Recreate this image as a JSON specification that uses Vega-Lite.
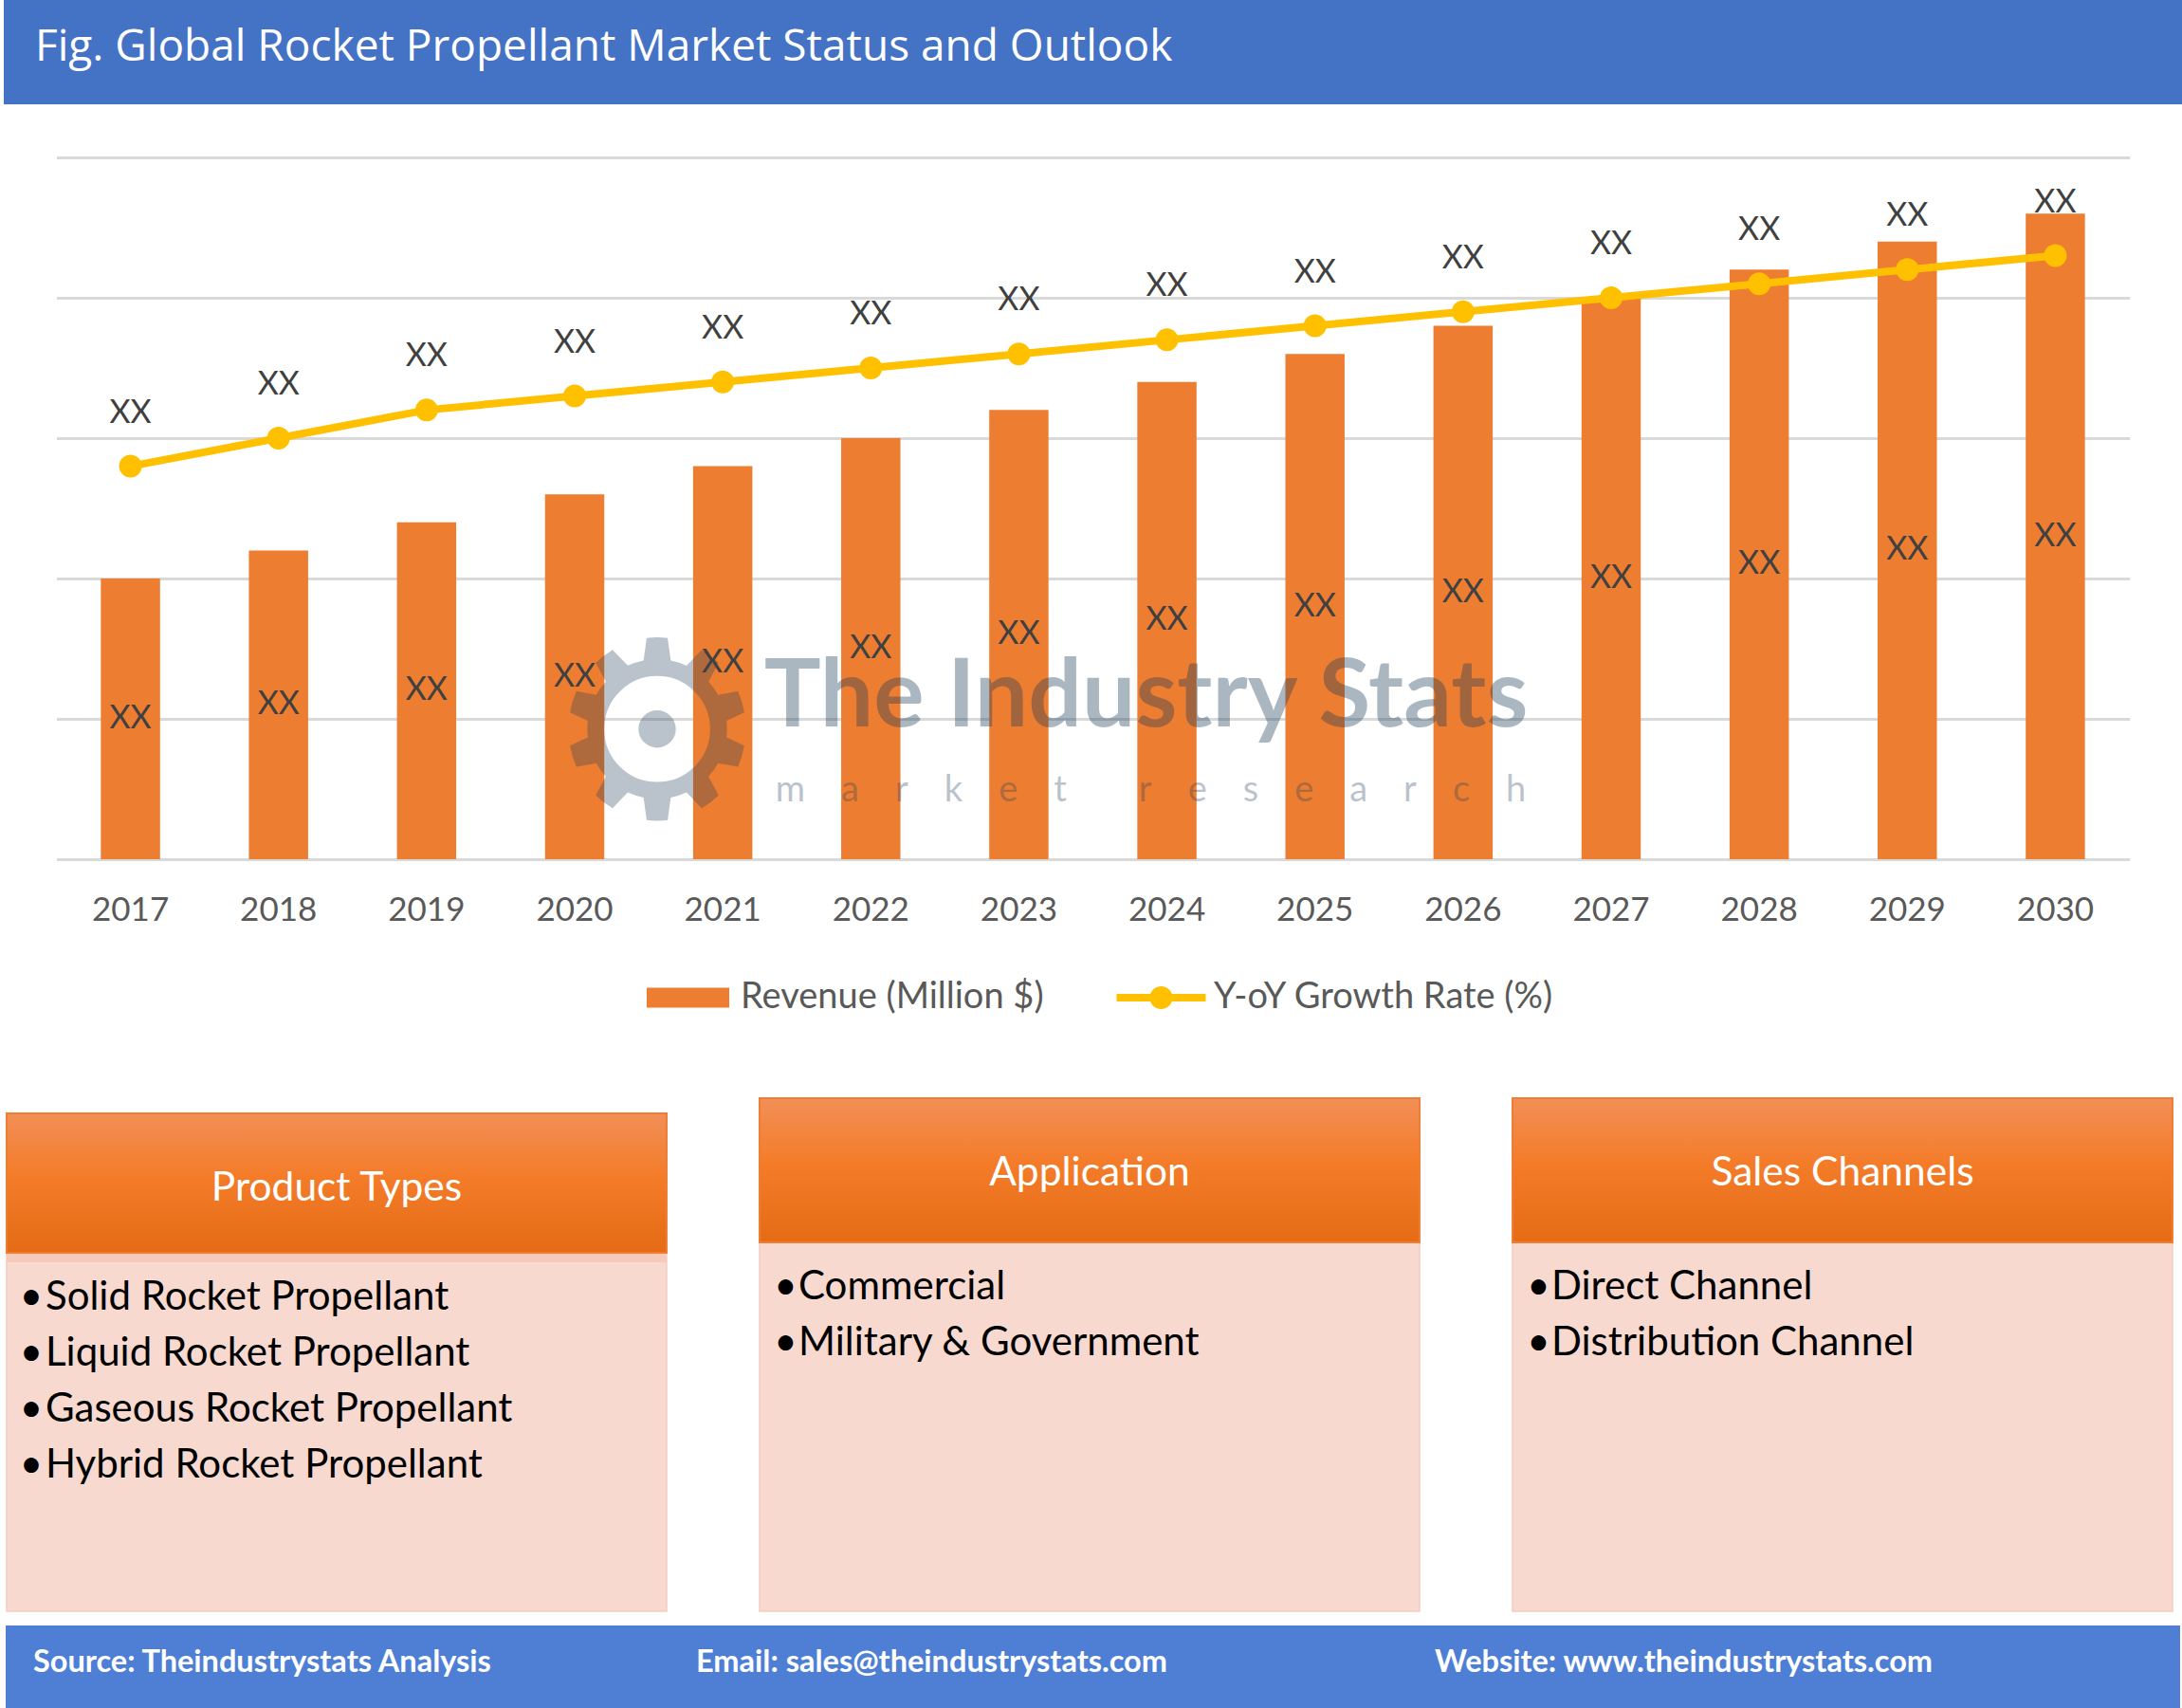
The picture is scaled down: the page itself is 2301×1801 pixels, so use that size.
{
  "$schema": "https://vega.github.io/schema/vega-lite/v6.json",
  "background": "white",
  "padding": {"left": 4, "top": 0, "right": 0, "bottom": 0},
  "bounds": "flush",
  "center": true,
  "spacing": 0,
  "config": {
    "view": {"stroke": null},
    "axisY": {"grid": true, "gridColor": "#D9D9D9", "gridWidth": 3, "labels": false, "ticks": false, "domain": false},
    "axisX": {"domain": false, "ticks": false, "tickSize": 0, "labelFont": "Lato", "labelFontSize": 35, "labelColor": "#595959", "labelPadding": 53, "labelBaseline": "middle", "labelAngle": 0, "grid": false},
    "text": {"font": "Lato"}
  },
  "datasets": {
    "chart": [
      {"year": "2017", "series": "Revenue (Million $)", "value": 20},
      {"year": "2018", "series": "Revenue (Million $)", "value": 22},
      {"year": "2019", "series": "Revenue (Million $)", "value": 24},
      {"year": "2020", "series": "Revenue (Million $)", "value": 26},
      {"year": "2021", "series": "Revenue (Million $)", "value": 28},
      {"year": "2022", "series": "Revenue (Million $)", "value": 30},
      {"year": "2023", "series": "Revenue (Million $)", "value": 32},
      {"year": "2024", "series": "Revenue (Million $)", "value": 34},
      {"year": "2025", "series": "Revenue (Million $)", "value": 36},
      {"year": "2026", "series": "Revenue (Million $)", "value": 38},
      {"year": "2027", "series": "Revenue (Million $)", "value": 40},
      {"year": "2028", "series": "Revenue (Million $)", "value": 42},
      {"year": "2029", "series": "Revenue (Million $)", "value": 44},
      {"year": "2030", "series": "Revenue (Million $)", "value": 46},
      {"year": "2017", "series": "Y-oY Growth Rate (%)", "value": 28},
      {"year": "2018", "series": "Y-oY Growth Rate (%)", "value": 30},
      {"year": "2019", "series": "Y-oY Growth Rate (%)", "value": 32},
      {"year": "2020", "series": "Y-oY Growth Rate (%)", "value": 33},
      {"year": "2021", "series": "Y-oY Growth Rate (%)", "value": 34},
      {"year": "2022", "series": "Y-oY Growth Rate (%)", "value": 35},
      {"year": "2023", "series": "Y-oY Growth Rate (%)", "value": 36},
      {"year": "2024", "series": "Y-oY Growth Rate (%)", "value": 37},
      {"year": "2025", "series": "Y-oY Growth Rate (%)", "value": 38},
      {"year": "2026", "series": "Y-oY Growth Rate (%)", "value": 39},
      {"year": "2027", "series": "Y-oY Growth Rate (%)", "value": 40},
      {"year": "2028", "series": "Y-oY Growth Rate (%)", "value": 41},
      {"year": "2029", "series": "Y-oY Growth Rate (%)", "value": 42},
      {"year": "2030", "series": "Y-oY Growth Rate (%)", "value": 43}
    ],
    "boxes": [
      {"group": "Product Types", "rank": 1, "item": "Solid Rocket Propellant"},
      {"group": "Product Types", "rank": 2, "item": "Liquid Rocket Propellant"},
      {"group": "Product Types", "rank": 3, "item": "Gaseous Rocket Propellant"},
      {"group": "Product Types", "rank": 4, "item": "Hybrid Rocket Propellant"},
      {"group": "Application", "rank": 1, "item": "Commercial"},
      {"group": "Application", "rank": 2, "item": "Military & Government"},
      {"group": "Sales Channels", "rank": 1, "item": "Direct Channel"},
      {"group": "Sales Channels", "rank": 2, "item": "Distribution Channel"}
    ]
  },
  "vconcat": [
    {
      "width": 2297, "height": 110,
      "view": {"fill": "#4472C4", "stroke": null},
      "data": {"values": [{"title": "Fig. Global Rocket Propellant Market Status and Outlook"}]},
      "mark": {"type": "text", "font": "Open Sans", "fontSize": 46, "fontWeight": 500, "color": "#FFFFFF", "align": "left", "baseline": "middle", "dy": -5},
      "encoding": {
        "x": {"datum": 1.437, "type": "quantitative", "scale": {"domain": [0, 100], "nice": false, "zero": false}, "axis": null},
        "text": {"field": "title"}
      }
    },
    {
      "width": 2186, "height": 796,
      "data": {"name": "chart"},
      "resolve": {"scale": {"y": "independent"}},
      "layer": [
        {
          "layer": [
            {
              "transform": [{"filter": "datum.series === 'Revenue (Million $)'"}],
              "mark": {"type": "bar"},
              "encoding": {
                "x": {"field": "year", "type": "ordinal", "title": null, "scale": {"type": "band", "paddingInner": 0.6, "paddingOuter": 0.3}},
                "y": {"field": "value", "type": "quantitative", "title": null, "scale": {"domain": [0, 53.78], "nice": false, "zero": false}, "axis": {"values": [0, 10, 20, 30, 40, 50]}},
                "color": {
                  "field": "series", "type": "nominal",
                  "scale": {"domain": ["Revenue (Million $)", "Y-oY Growth Rate (%)"], "range": ["#ED7D31", "#FFC000"]},
                  "legend": {
                    "orient": "none", "legendX": 676.5, "legendY": 1007, "direction": "horizontal", "title": null, "padding": 0,
                    "symbolSize": 8100, "symbolStrokeWidth": 0, "symbolOpacity": 1,
                    "labelFont": "Lato", "labelFontSize": 38, "labelColor": "#595959", "labelOffset": 10.5, "labelLimit": 1000,
                    "columnPadding": 76,
                    "encode": {"symbols": {"update": {"shape": {"signal": "datum.value === 'Revenue (Million $)' ? 'M-0.967,-0.233H0.967V0.233H-0.967Z' : 'M-1.044,-0.089H1.044V0.089H-1.044Z M-0.267,0A0.267,0.267,0,1,1,0.267,0A0.267,0.267,0,1,1,-0.267,0Z'"}}}}
                  }
                }
              }
            },
            {
              "transform": [{"filter": "datum.series === 'Y-oY Growth Rate (%)'"}],
              "mark": {"type": "line", "color": "#FFC000", "strokeWidth": 8},
              "encoding": {
                "x": {"field": "year", "type": "ordinal", "title": null},
                "y": {"field": "value", "type": "quantitative", "title": null}
              }
            },
            {
              "transform": [{"filter": "datum.series === 'Y-oY Growth Rate (%)'"}],
              "mark": {"type": "point", "filled": true, "shape": "circle", "size": 576, "color": "#FFC000", "opacity": 1},
              "encoding": {
                "x": {"field": "year", "type": "ordinal", "title": null},
                "y": {"field": "value", "type": "quantitative", "title": null}
              }
            },
            {
              "transform": [{"filter": "datum.series === 'Y-oY Growth Rate (%)'"}],
              "mark": {"type": "text", "font": "Lato", "fontSize": 34, "color": "#404040", "baseline": "middle", "align": "center", "dy": -56},
              "encoding": {
                "x": {"field": "year", "type": "ordinal", "title": null},
                "y": {"field": "value", "type": "quantitative", "title": null},
                "text": {"value": "XX"}
              }
            },
            {
              "data": {"values": [{"logo": "⚙"}]},
              "mark": {"type": "text", "font": "DejaVu Sans", "fontSize": 260, "color": "#1F3D56", "opacity": 0.3, "align": "center", "baseline": "middle", "dx": 87},
              "encoding": {
                "x": {"datum": "2020", "type": "ordinal"},
                "y": {"datum": 8.31, "type": "quantitative"},
                "text": {"field": "logo"}
              }
            },
            {
              "data": {"values": [{"brand": "The Industry Stats"}]},
              "mark": {"type": "text", "font": "Lato", "fontSize": 100, "fontWeight": "bold", "color": "#1F3D56", "opacity": 0.37, "align": "center", "baseline": "middle", "dx": -22},
              "encoding": {
                "x": {"datum": "2024", "type": "ordinal"},
                "y": {"datum": 11.5, "type": "quantitative"},
                "text": {"field": "brand"}
              }
            },
            {
              "data": {"values": [{"tag": "m\u2002\u2002a\u2002\u2002r\u2002\u2002k\u2002\u2002e\u2002\u2002t\u2002\u2002\u2002\u2002r\u2002\u2002e\u2002\u2002s\u2002\u2002e\u2002\u2002a\u2002\u2002r\u2002\u2002c\u2002\u2002h"}]},
              "mark": {"type": "text", "font": "Lato", "fontSize": 38, "color": "#1F3D56", "opacity": 0.3, "align": "center", "baseline": "middle", "dx": -17},
              "encoding": {
                "x": {"datum": "2024", "type": "ordinal"},
                "y": {"datum": 4.86, "type": "quantitative"},
                "text": {"field": "tag"}
              }
            }
          ]
        },
        {
          "transform": [{"filter": "datum.series === 'Revenue (Million $)'"}],
          "mark": {"type": "text", "font": "Lato", "fontSize": 34, "color": "#404040", "baseline": "middle", "align": "center"},
          "encoding": {
            "x": {"field": "year", "type": "ordinal", "title": null},
            "y": {"field": "value", "type": "quantitative", "title": null, "scale": {"domain": [0, 107.56], "nice": false, "zero": false}, "axis": null},
            "text": {"value": "XX"}
          }
        }
      ]
    },
    {"width": 1, "height": 252, "data": {"values": []}, "mark": "point"},
    {
      "width": 2297, "height": 541,
      "data": {"name": "boxes"},
      "layer": [
        {
          "transform": [{"filter": "datum.rank === 1 && datum.group === 'Product Types'"}],
          "mark": {"type": "rect", "fill": "#F8D9CF", "stroke": "#F5CDBE", "strokeWidth": 1.5},
          "encoding": {
            "x": {"field": "group", "type": "nominal", "title": null, "scale": {"type": "band", "domain": ["Product Types", "Application", "Sales Channels"], "paddingInner": 0.12343, "paddingOuter": 0.00819, "align": 0.23}, "axis": null},
            "y": {"datum": 0.39, "type": "quantitative", "scale": {"domain": [-2.373, 6.797], "nice": false, "zero": false, "reverse": true}, "axis": null},
            "y2": {"datum": 6.797}
          }
        },
        {
          "transform": [{"filter": "datum.rank === 1 && datum.group !== 'Product Types'"}],
          "mark": {"type": "rect", "fill": "#F8D9CF", "stroke": "#F5CDBE", "strokeWidth": 1.5},
          "encoding": {
            "x": {"field": "group", "type": "nominal", "title": null, "axis": null},
            "y": {"datum": 0.203, "type": "quantitative"},
            "y2": {"datum": 6.797}
          }
        },
        {
          "transform": [{"filter": "datum.rank === 1 && datum.group === 'Product Types'"}],
          "mark": {"type": "rect", "fill": "#F5CAB9"},
          "encoding": {
            "x": {"field": "group", "type": "nominal", "title": null, "axis": null},
            "y": {"datum": 0.39, "type": "quantitative"},
            "y2": {"datum": 0.56}
          }
        },
        {
          "transform": [{"filter": "datum.rank === 1 && datum.group === 'Product Types'"}],
          "mark": {"type": "rect", "stroke": "#EE7D35", "strokeWidth": 2, "fill": {"gradient": "linear", "x1": 0, "y1": 0, "x2": 0, "y2": 1, "stops": [{"offset": 0, "color": "#F28F57"}, {"offset": 0.45, "color": "#F47C29"}, {"offset": 1, "color": "#E56B15"}]}},
          "encoding": {
            "x": {"field": "group", "type": "nominal", "title": null, "axis": null},
            "y": {"datum": -2.102, "type": "quantitative"},
            "y2": {"datum": 0.39}
          }
        },
        {
          "transform": [{"filter": "datum.rank === 1 && datum.group !== 'Product Types'"}],
          "mark": {"type": "rect", "stroke": "#EE7D35", "strokeWidth": 2, "fill": {"gradient": "linear", "x1": 0, "y1": 0, "x2": 0, "y2": 1, "stops": [{"offset": 0, "color": "#F28F57"}, {"offset": 0.45, "color": "#F47C29"}, {"offset": 1, "color": "#E56B15"}]}},
          "encoding": {
            "x": {"field": "group", "type": "nominal", "title": null, "axis": null},
            "y": {"datum": -2.373, "type": "quantitative"},
            "y2": {"datum": 0.203}
          }
        },
        {
          "transform": [{"filter": "datum.rank === 1 && datum.group === 'Product Types'"}],
          "mark": {"type": "text", "font": "Lato", "fontSize": 42.5, "color": "#FFFFFF", "align": "center", "baseline": "middle"},
          "encoding": {
            "x": {"field": "group", "type": "nominal", "title": null, "axis": null, "bandPosition": 0.5},
            "y": {"datum": -0.763, "type": "quantitative"},
            "text": {"field": "group"}
          }
        },
        {
          "transform": [{"filter": "datum.rank === 1 && datum.group !== 'Product Types'"}],
          "mark": {"type": "text", "font": "Lato", "fontSize": 42.5, "color": "#FFFFFF", "align": "center", "baseline": "middle"},
          "encoding": {
            "x": {"field": "group", "type": "nominal", "title": null, "axis": null, "bandPosition": 0.5},
            "y": {"datum": -1.034, "type": "quantitative"},
            "text": {"field": "group"}
          }
        },
        {
          "transform": [{"filter": "datum.group === 'Product Types'"}],
          "mark": {"type": "text", "font": "Lato", "fontSize": 42, "color": "#000000", "align": "center", "baseline": "middle", "dy": 11},
          "encoding": {
            "x": {"field": "group", "type": "nominal", "title": null, "axis": null, "bandPosition": 0.0374},
            "y": {"field": "rank", "type": "quantitative", "title": null},
            "text": {"value": "•"}
          }
        },
        {
          "transform": [{"filter": "datum.group !== 'Product Types'"}],
          "mark": {"type": "text", "font": "Lato", "fontSize": 42, "color": "#000000", "align": "center", "baseline": "middle"},
          "encoding": {
            "x": {"field": "group", "type": "nominal", "title": null, "axis": null, "bandPosition": 0.0395},
            "y": {"field": "rank", "type": "quantitative", "title": null},
            "text": {"value": "•"}
          }
        },
        {
          "transform": [{"filter": "datum.group === 'Product Types'"}],
          "mark": {"type": "text", "font": "Lato", "fontSize": 42, "color": "#000000", "align": "left", "baseline": "middle", "dy": 11},
          "encoding": {
            "x": {"field": "group", "type": "nominal", "title": null, "axis": null, "bandPosition": 0.0589},
            "y": {"field": "rank", "type": "quantitative", "title": null},
            "text": {"field": "item"}
          }
        },
        {
          "transform": [{"filter": "datum.group !== 'Product Types'"}],
          "mark": {"type": "text", "font": "Lato", "fontSize": 42, "color": "#000000", "align": "left", "baseline": "middle"},
          "encoding": {
            "x": {"field": "group", "type": "nominal", "title": null, "axis": null, "bandPosition": 0.0589},
            "y": {"field": "rank", "type": "quantitative", "title": null},
            "text": {"field": "item"}
          }
        }
      ]
    },
    {"width": 1, "height": 15, "data": {"values": []}, "mark": "point"},
    {
      "width": 2293, "height": 87,
      "view": {"fill": "#4E7FD5", "stroke": null},
      "data": {"values": [
        {"part": "source", "label": "Source: Theindustrystats Analysis"},
        {"part": "email", "label": "Email: sales@theindustrystats.com"},
        {"part": "website", "label": "Website: www.theindustrystats.com"}
      ]},
      "layer": [
        {
          "transform": [{"filter": "datum.part === 'source'"}],
          "mark": {"type": "text", "font": "Lato", "fontSize": 32.5, "fontWeight": "bold", "color": "#FFFFFF", "align": "left", "baseline": "middle", "dy": -5},
          "encoding": {
            "x": {"datum": 1.265, "type": "quantitative", "scale": {"domain": [0, 100], "nice": false, "zero": false}, "axis": null},
            "text": {"field": "label"}
          }
        },
        {
          "transform": [{"filter": "datum.part === 'email'"}],
          "mark": {"type": "text", "font": "Lato", "fontSize": 32.5, "fontWeight": "bold", "color": "#FFFFFF", "align": "left", "baseline": "middle", "dy": -5},
          "encoding": {
            "x": {"datum": 31.75, "type": "quantitative"},
            "text": {"field": "label"}
          }
        },
        {
          "transform": [{"filter": "datum.part === 'website'"}],
          "mark": {"type": "text", "font": "Lato", "fontSize": 32.5, "fontWeight": "bold", "color": "#FFFFFF", "align": "left", "baseline": "middle", "dy": -5},
          "encoding": {
            "x": {"datum": 65.72, "type": "quantitative"},
            "text": {"field": "label"}
          }
        }
      ]
    }
  ]
}
